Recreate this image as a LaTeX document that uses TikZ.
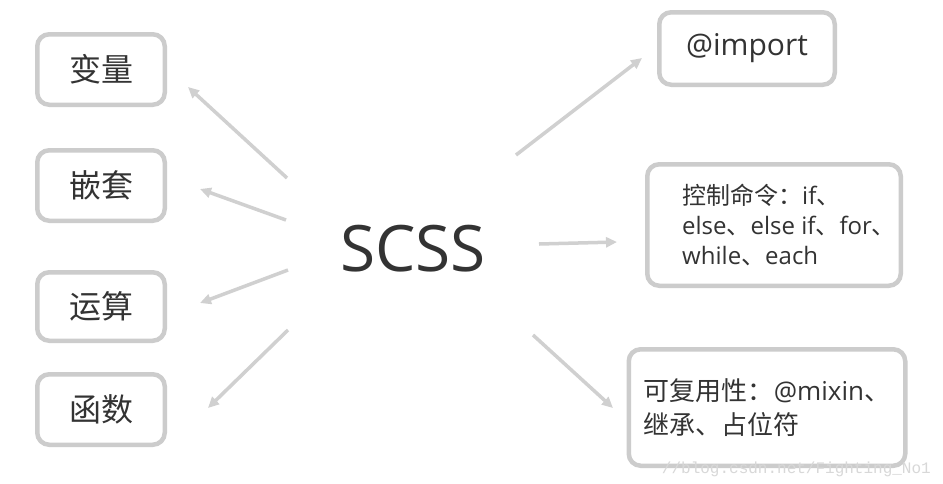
\documentclass[tikz,border=0pt]{standalone}
\usepackage{fontspec}
\setmainfont{Open Sans}
\newfontfamily\cjk{Noto Sans CJK SC}
\newfontfamily\wmfont{Liberation Mono}
\usetikzlibrary{arrows.meta}
\definecolor{boxgray}{HTML}{CCCCCC}
\definecolor{arrgray}{HTML}{D0D0D0}
\definecolor{txtgray}{HTML}{333333}
\definecolor{wmgray}{HTML}{D8D8D8}

\begin{document}
\begin{tikzpicture}[x=1pt,y=-1pt,>={Triangle[length=11pt,width=10pt]},
  box/.style={draw=boxgray,line width=4.5pt,rounded corners=12pt,fill=white,text=txtgray,inner sep=0pt},
  lbox/.style={box,minimum width=127.5pt,minimum height=70.5pt,font=\cjk\fontsize{32}{36}\selectfont},
  conn/.style={->,draw=arrgray,line width=3.5pt}]
\useasboundingbox (0,0) rectangle (943,483);
\fill[white] (0,0) rectangle (943,483);
\node[text=txtgray,inner sep=0pt,font=\fontsize{64}{70}\selectfont] (scss) at (413,248.5) {SCSS};
\node[lbox] (bianliang) at (101,69.5) {变量};
\node[lbox] (qiantao) at (101,185.5) {嵌套};
\node[lbox,minimum height=68.5pt] (yunsuan) at (101,306.5) {运算};
\node[lbox] (hanshu) at (101,409.5) {函数};
\node[box,minimum width=175.5pt,minimum height=72.5pt,font=\fontsize{30}{36}\selectfont] (import) at (747,48.5) {@import};
\node[box,minimum width=253.5pt,minimum height=121.5pt] (ctrl) at (774,225) {};
\node[anchor=west,align=left,text=txtgray,inner sep=0pt,font=\fontsize{24}{30}\selectfont] (ctrltxt) at ([xshift=37pt]ctrl.west)
  {{\cjk 控制命令：}if{\cjk 、}\\else{\cjk 、}else if{\cjk 、}for{\cjk 、}\\while{\cjk 、}each};
\node[box,minimum width=276.5pt,minimum height=116.5pt,align=left,font=\fontsize{26}{34}\selectfont] (reuse) at (767,407.5)
  {{\cjk 可复用性：}@mixin{\cjk 、}\\{\cjk 继承、占位符}};
\node[anchor=base east,text=wmgray,inner sep=0pt,font=\wmfont\fontsize{16}{18}\selectfont] (wm) at (931,473) {//blog.csdn.net/Fighting\_No1};
\coordinate (s1) at (287,178); \coordinate (t1) at (188,87);
\coordinate (s2) at (286,220); \coordinate (t2) at (200,189);
\coordinate (s3) at (288,270); \coordinate (t3) at (200,303);
\coordinate (s4) at (288,330); \coordinate (t4) at (208,408);
\coordinate (s5) at (516,155); \coordinate (t5) at (642,58);
\coordinate (s6) at (539,244); \coordinate (t6) at (617,242);
\coordinate (s7) at (533,335); \coordinate (t7) at (613,408);
\draw[conn] (s1) -- (t1);
\draw[conn] (s2) -- (t2);
\draw[conn] (s3) -- (t3);
\draw[conn] (s4) -- (t4);
\draw[conn] (s5) -- (t5);
\draw[conn] (s6) -- (t6);
\draw[conn] (s7) -- (t7);
\end{tikzpicture}
\end{document}
